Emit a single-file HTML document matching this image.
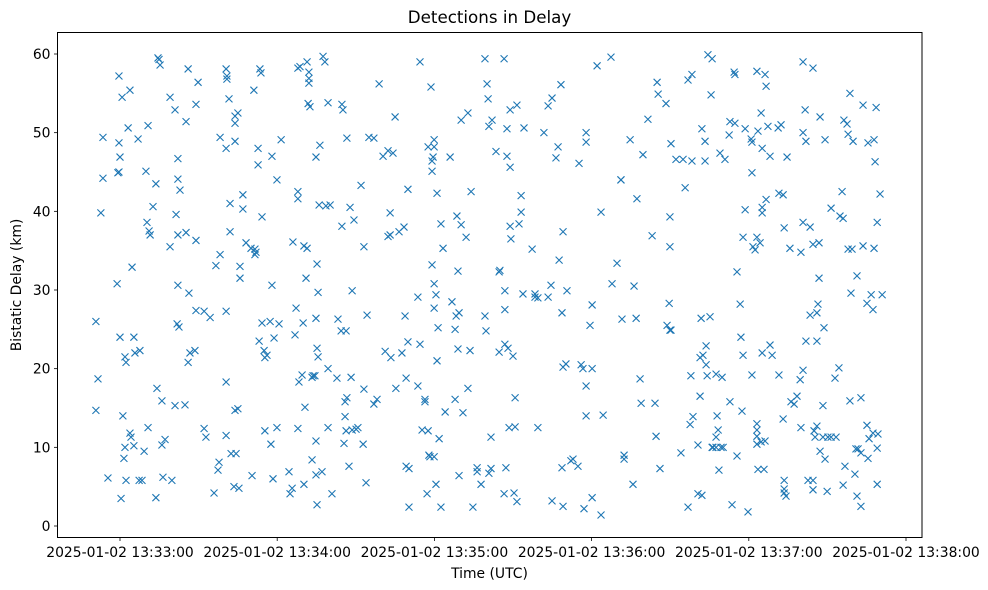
<!DOCTYPE html>
<html><head><meta charset="utf-8"><style>
html,body{margin:0;padding:0;background:#fff;}
svg{display:block;font-family:"DejaVu Sans","Liberation Sans",sans-serif;}
</style></head><body>
<svg id="chart" width="988" height="590" viewBox="0 0 988 590">
<text x="489.5" y="23" text-anchor="middle" font-size="16.7" fill="#000">Detections in Delay</text>
<text x="489.5" y="578" text-anchor="middle" font-size="13.9" fill="#000">Time (UTC)</text>
<text transform="translate(21,285) rotate(-90)" text-anchor="middle" font-size="13.9" fill="#000">Bistatic Delay (km)</text>
<g id="marks"></g>
<g id="axes"></g>
<rect x="57.5" y="32.5" width="864.5" height="505" fill="none" stroke="#000" stroke-width="1"/>
</svg>
<script>
const xTickSecs=[0,60,120,180,240,300];
const xTickLabels=["2025-01-02 13:33:00","2025-01-02 13:34:00","2025-01-02 13:35:00","2025-01-02 13:36:00","2025-01-02 13:37:00","2025-01-02 13:38:00"];
const yTicks=[0,10,20,30,40,50,60];
// seconds after 13:33:00, bistatic delay km
const secs=[-9.2,-9.2,-8.4,-7.3,-6.5,-6.5,-4.6,-1.1,-0.4,-0.4,0,-0.8,-0.4,0.8,0,0.4,1.1,1.5,1.9,1.9,2.3,2.3,3.1,3.8,3.8,4.6,4.2,5.3,5.3,5.7,6.9,7.3,7.6,8.4,9.2,10.7,9.9,10.3,11.1,11.5,10.7,12.6,13.7,13.7,14.1,14.5,15.3,16,14.9,16,16.4,17.2,19.1,19.1,19.8,21,21.4,21,22.1,22.1,21.8,22.5,22.1,22.1,22.9,24.8,25.2,25.2,26,26.3,26,26.7,28.6,29,29,29.8,29,32.1,32.1,32.8,34.4,35.9,36.6,37.4,37.8,38.2,38.2,40.5,40.5,40.5,40.5,40.5,40.8,40.8,41.6,42,42,42.4,43.5,43.9,43.9,43.9,43.9,44.3,45,45.4,45,45.8,45.8,46.9,46.9,48.1,50,50.4,51.1,51.5,51.5,51.9,52.7,53.1,53.4,53.8,54.2,54.2,52.7,55,55.3,55.3,56.1,57.3,57.6,58.4,58,58,58.8,59.9,60.7,61.5,59.9,64.5,64.9,65.7,66,66.8,67.2,67.9,67.9,67.9,67.9,68.3,68.7,69.5,69.9,70.2,70.2,70.6,71,71.4,71.4,71.8,72.1,72.1,72.1,72.5,73.3,73.3,73.7,74.8,74.8,74.8,74.8,74.4,75.2,75.6,75.2,75.2,75.6,76,76.3,77.1,77.5,78.2,78.6,79.4,79.4,79.4,80.2,80.9,82.8,83.2,84.4,84.7,84.7,85.1,85.5,85.9,85.9,86.3,86.3,86.6,86.6,87.4,87.8,88.2,88.6,88.6,89.3,90.1,90.8,92,92.8,93.1,93.1,93.9,94.3,95,96.9,96.9,98.1,98.9,100.4,101.2,102.3,102.3,103.1,103.1,103.4,104.2,105,105.3,106.5,107.6,108.8,108.4,109.2,109.2,109.9,109.9,110.3,110.3,113.7,113.7,114.5,114.5,115.3,116.4,116.4,117.6,117.6,117.2,117.9,118.3,118.7,119.1,119.1,119.1,119.9,119.9,119.9,119.5,119.9,119.9,120.6,120.6,121,121,121.4,121.8,122.5,122.5,123.3,124.1,126,126.7,127.9,127.9,128.3,128.6,129,129.4,129.4,129,130.2,130.2,130.9,132.1,132.8,132.8,133.6,134,134.7,136.3,136.3,137.8,139.3,139.3,139.7,140.1,140.5,140.8,140.8,141.6,141.6,142,143.5,144.7,145,144.7,146.6,146.6,146.9,146.9,146.9,147.3,147.7,147.7,148.1,148.5,148.9,148.9,148.9,149.2,150,150.4,150.8,150.8,151.5,151.5,152.3,153.1,153.1,153.8,154.2,157.3,158.4,158.4,159.5,159.5,161.8,163.4,163.4,164.5,164.9,164.9,166.4,167.2,167.6,168.3,169.1,169.1,169.1,168.7,168.7,170.2,170.6,172.1,172.9,174.8,175.2,176,176.7,177.1,177.9,177.9,177.9,177.9,179.4,180.2,180.2,180.2,182.1,183.6,183.6,184.4,187.4,187.8,189.7,191.2,191.2,191.6,192.4,192.4,194.7,195.8,196.2,197,197.3,198.9,198.5,199.6,201.5,203.1,204.2,204.6,205,205.4,206.1,208.4,208.8,209.6,209.9,209.9,209.9,210.3,210.3,212.2,214.1,214.9,215.7,216.8,216.8,217.6,217.9,218.3,218.3,218.7,220.6,220.6,221.4,221.4,221.8,222.1,222.1,222.5,223.3,223.3,223.7,224.1,223.7,225.2,225.6,226,224.4,226,226.3,227.5,227.5,227.5,227.9,228.3,228.6,229,229.4,230.2,229.8,230.9,232.5,232.8,232.8,233.6,234.4,234.7,234.7,235.5,235.5,236.7,237,237.4,237.8,237.8,238.6,238.6,239.7,240.9,241.2,241.2,241.2,241.6,242.4,243.1,243.1,243.1,243.1,243.1,243.1,243.5,243.5,244.7,245.1,244.3,245.1,244.7,245.1,245.1,245.8,246.2,246.2,246.6,246.6,247.3,248.1,248.1,248.9,251.2,251.5,251.5,252.3,253.1,253.1,253.5,253.5,253.5,253.5,254.2,254.6,255.7,256.1,257.3,258.4,259.6,260.7,260.7,260.7,259.9,260.7,259.9,261.5,261.8,261.8,262.6,263.4,263.4,264.5,264.5,264.5,264.5,264.9,265.3,266,266,266.4,266.8,266.8,266,267.2,267.2,268.3,268.3,268.7,269.1,269.1,269.9,270.2,271.4,271.4,272.9,273.3,274.4,274.8,275.6,276,276,276.3,276.7,277.5,277.9,277.9,278.6,278.6,279,279.4,279.8,280.5,280.9,281.3,281.3,281.7,282.8,282.8,282.8,283.6,283.6,285.1,285.5,285.1,285.9,285.5,286.7,287.4,287.4,287.8,287.8,288.2,288.6,289,289.3,289,289,290.1,290.9];
const kms=[26.0,14.7,18.7,39.8,49.4,44.2,6.1,30.8,57.2,48.7,46.9,44.9,45,54.5,24,3.5,14,8.6,10,21.5,5.8,20.8,50.6,55.4,11.8,32.9,11.3,10.2,24,22,49.2,5.8,22.3,5.8,9.5,50.9,45.1,38.6,37.5,37,12.5,40.6,43.5,3.6,17.5,59.5,58.6,15.9,59.3,10.3,6.2,11,35.5,54.5,5.8,15.3,39.6,52.9,30.6,37,25.7,25.3,46.7,44.1,42.7,15.4,37.3,51.4,58.1,29.6,20.8,22,22.3,27.4,53.6,56.4,36.3,27.3,12.4,11.3,26.5,4.2,33.1,7.1,8.1,34.5,49.4,48,18.3,11.5,27.3,58.1,57.2,56.8,54.3,37.4,41,9.2,5,14.7,48.9,52.1,51.2,9.2,52.5,4.8,14.9,31.5,33,40.3,42.1,36,35.3,6.4,55.4,35.2,34.5,34.8,48,23.5,58.1,57.6,39.3,25.8,45.9,22.3,12.1,21.4,21.7,26,10.4,6,47,30.6,23.9,12.5,25.7,49.1,44,6.9,4.1,4.8,36.1,24.3,27.7,58.2,12.4,42.5,41.6,18.3,58.4,19.2,25.8,35.6,5.3,15.1,31.5,59,35.3,53.7,56.9,57.7,56.3,53.3,18.9,8.4,19.1,26.4,6.5,10.8,46.9,19.1,2.7,29.7,33.3,22.6,21.5,40.8,48.4,6.9,59.7,59,40.7,53.8,20,12.5,40.8,4.1,18.8,26.3,24.8,38.1,53.6,52.9,10.5,13.9,15.8,12.1,24.8,49.3,16.3,7.6,40.5,18.9,12.2,29.9,38.9,12.3,12.5,43.3,10.4,17.4,35.5,5.5,26.8,49.4,15.5,49.3,16.1,56.2,47,22.2,47.7,36.8,39.8,37,21.4,47.4,52,17.5,37.4,22,26.7,38,18.8,7.6,42.8,23.4,7.3,2.4,17.8,29.1,23.1,59,12.2,16.1,15.8,12.1,48.2,4.1,9,8.8,55.8,46.4,45.1,33.2,8.8,49.1,48.2,46.9,27.7,30.8,5.3,29.4,21,42.3,25.2,11.1,2.4,38.4,35.3,14.5,46.9,28.5,25,16.1,26.7,39.4,32.4,27.1,6.4,22.5,51.6,38.3,14.4,36.7,17.5,52.5,22.3,42.5,2.4,7.4,6.9,5.3,26.7,59.4,24.8,56.2,54.3,50.8,6.7,7.3,11.3,51.6,47.6,22.1,32.5,32.3,4.1,59.4,23.1,29.9,27.5,7.4,50.5,47,22.6,12.5,52.9,45.6,38.1,36.5,21.6,4.2,16.3,12.6,3.1,53.5,38.4,42,39.9,29.5,50.6,35.2,29.5,29.1,29,12.5,50,53.4,29.1,30.6,3.2,54.4,46.8,48.2,33.8,56.1,2.5,37.4,20.2,27.1,7.4,20.6,29.9,8.3,8.5,7.6,46.1,20.5,20,2.2,17.8,48.8,50,14,25.5,20,3.6,28.1,58.5,39.9,1.4,14.1,59.6,30.8,33.4,44,44,26.3,8.5,9,49.1,5.3,30.5,26.4,41.6,15.6,18.7,47.2,51.7,36.9,15.6,11.4,56.4,54.9,7.3,53.7,25.5,28.3,24.9,35.5,39.3,24.9,48.6,46.6,9.3,46.6,43,56.7,2.4,12.9,19.1,57.4,46.4,13.9,10.3,4.1,16.5,21.4,26.4,50.5,3.9,21.7,46.4,48.9,20.5,19.1,22.9,26.6,54.8,59.4,59.9,10,10,10,11.3,19.3,14,12.2,7.1,47.4,10,10,18.9,46.6,49.7,15.8,51.4,2.7,57.7,57.4,51.2,8.9,32.3,28.2,24,14.6,21.7,36.7,40.2,50.5,1.8,49.2,48.8,19.2,44.9,35.5,35.1,36.7,57.8,13,12.2,11.4,10.4,7.2,50.2,52.5,48,36,40.5,10.7,39.8,22,7.2,10.8,57.4,41.5,55.9,50.8,47,23,21.7,50.6,42.3,19.2,51,13.6,42.1,37.9,5.8,4.7,4.2,3.8,46.9,35.3,15.8,15.5,16.5,18.6,59,50,38.6,34.8,19.8,12.5,52.9,48.9,23.5,5.8,26.8,38,5.8,35.8,58.2,4.6,12.1,11.3,12.7,23.5,28.2,36,31.5,27.1,9.5,52,11.3,15.3,25.2,49.1,8.5,4.4,11.3,11.3,40.4,18.8,11.3,20.1,39.4,42.5,5.2,39.1,51.6,7.6,51.1,35.2,49.8,55,15.9,29.6,35.2,48.9,6.6,9.8,3.8,31.8,9.8,16.3,2.5,9.3,35.6,53.5,28.3,48.7,12.8,11.1,8.6,29.4,27.5,11.8,49.1,35.3,46.3,53.2,38.6,11.7,9.9,5.3,42.2,29.4];

const NS='http://www.w3.org/2000/svg';
const X0=120, PXS=157.2/60, Y0=526, PYK=472/60;
function xs(s){return X0+s*PXS;}
function ys(k){return Y0-k*PYK;}
const marks=document.getElementById('marks');
const axes=document.getElementById('axes');
function mk(tag,attrs,parent){const e=document.createElementNS(NS,tag);for(const k in attrs)e.setAttribute(k,attrs[k]);parent.appendChild(e);return e;}
const n=Math.min(secs.length,kms.length);
for(let i=0;i<n;i++){
  const cx=xs(secs[i]), cy=ys(kms[i]), r=3.5;
  const p=mk('path',{d:`M${cx-r},${cy-r}L${cx+r},${cy+r}M${cx-r},${cy+r}L${cx+r},${cy-r}`,stroke:'#1f77b4','stroke-width':1.1,fill:'none'},marks);
  
  
}
xTickSecs.forEach((s,i)=>{
  const x=xs(s);
  const t=mk('line',{x1:x,x2:x,y1:537.5,y2:541,stroke:'#000','stroke-width':0.8},axes);
  
  
  const l=mk('text',{x:x,y:557,'text-anchor':'middle','font-size':13.9,fill:'#000'},axes);
  l.textContent=xTickLabels[i];
  
  
});
yTicks.forEach(v=>{
  const y=ys(v);
  const t=mk('line',{x1:54,x2:57.5,y1:y,y2:y,stroke:'#000','stroke-width':0.8},axes);
  
  
  const l=mk('text',{x:50.5,y:y+5,'text-anchor':'end','font-size':13.9,fill:'#000'},axes);
  l.textContent=String(v);
  
  
});
</script>
</body></html>
